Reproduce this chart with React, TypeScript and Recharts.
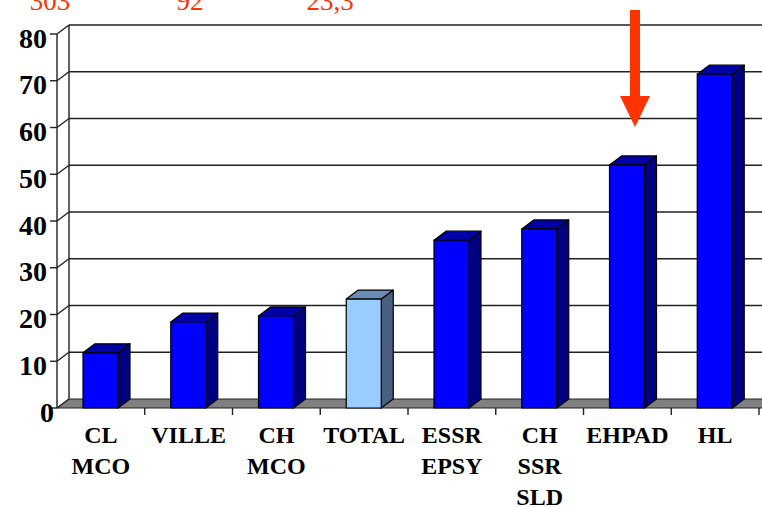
import { BarChart, Bar, XAxis, YAxis, CartesianGrid, Cell } from "recharts";

const categories = ["CL\nMCO", "VILLE", "CH\nMCO", "TOTAL", "ESSR\nEPSY", "CH\nSSR\nSLD", "EHPAD", "HL"];
const values = [11.8, 18.4, 19.7, 23.3, 35.9, 38.3, 52, 71.4];
const highlighted = ["TOTAL"];
const yTicks = [0, 10, 20, 30, 40, 50, 60, 70, 80];
const topNotes = ["303", "92", "23,3"];

const data = categories.map((name, i) => ({ name, value: values[i] }));

const DX = 12;
const DY = 9;
const FONT = '"Liberation Serif", "Times New Roman", serif';

const Bar3D = (props: any) => {
  const { x, y, width, height, fill } = props;
  const isTotal = fill === "total";
  const front = isTotal ? "#99ccff" : "#0000ff";
  const side = isTotal ? "#4a5f80" : "#000080";
  const top = isTotal ? "#6a8cb8" : "#0000a8";
  return (
    <g stroke="#000" strokeWidth={1.2} strokeLinejoin="round">
      <polygon
        points={`${x + width},${y} ${x + width + DX},${y - DY} ${x + width + DX},${y + height - DY} ${x + width},${y + height}`}
        fill={side}
      />
      <polygon
        points={`${x},${y} ${x + DX},${y - DY} ${x + width + DX},${y - DY} ${x + width},${y}`}
        fill={top}
      />
      <rect x={x} y={y} width={width} height={height} fill={front} />
    </g>
  );
};

const GridLine = (props: any) => {
  const { x1, x2, y1, y, height, index } = props;
  const bottom = y + height;
  const isFloor = Math.abs(y1 - bottom) < 0.5;
  const isTop = Math.abs(y1 - y) < 0.5;
  return (
    <g key={`g-${index}`}>
      {isFloor && (
        <polygon
          points={`${x1},${y1} ${x1 + DX},${y1 - DY} ${x2 + DX + 10},${y1 - DY} ${x2 + 10},${y1}`}
          fill="#808080"
          stroke="#222"
          strokeWidth={1}
        />
      )}
      {!isFloor && (
        <line x1={x1 + DX} y1={y1 - DY} x2={x2 + DX + 10} y2={y1 - DY} stroke="#222" strokeWidth={1.4} />
      )}
      <line x1={x1} y1={y1} x2={x1 + DX} y2={y1 - DY} stroke="#222" strokeWidth={1.4} />
      {isTop && (
        <line x1={x1 + DX} y1={y1 - DY} x2={x1 + DX} y2={bottom - DY} stroke="#222" strokeWidth={1.4} />
      )}
    </g>
  );
};

const YTick = (props: any) => {
  const { x, y, payload } = props;
  const isZero = payload.value === 0;
  return (
    <text
      x={x - 1 + (isZero ? 7 : 0)}
      y={y + 4}
      textAnchor="end"
      dominantBaseline="central"
      fontFamily={FONT}
      fontWeight="bold"
      fontSize={28}
      fill="#000"
    >
      {payload.value}
    </text>
  );
};

const XTick = (props: any) => {
  const { x, y, payload, width, visibleTicksCount } = props;
  const band = width / visibleTicksCount;
  const lines = String(payload.value).split("\n");
  return (
    <g>
      <line x1={x + band / 2} y1={y - 8} x2={x + band / 2} y2={y - 1} stroke="#222" strokeWidth={1.4} />
      <text textAnchor="middle" fontFamily={FONT} fontWeight="bold" fontSize={24} fill="#000">
        {lines.map((l, i) => (
          <tspan key={i} x={x} y={y + 27 + i * 31}>
            {l}
          </tspan>
        ))}
      </text>
    </g>
  );
};

export default function App() {
  const noteX = [50, 190, 330];
  return (
    <div style={{ position: "absolute", left: 0, top: 0, width: 762, height: 507, background: "#fff", overflow: "hidden" }}>
      <BarChart
        width={762}
        height={507}
        data={data}
        margin={{ top: 34, right: 3, bottom: 0, left: 0 }}
        barCategoryGap={0}
      >
        <CartesianGrid vertical={false} horizontal={(p: any) => <GridLine {...p} />} />
        <XAxis
          dataKey="name"
          interval={0}
          height={99}
          tick={<XTick />}
          tickLine={false}
          axisLine={false}
        />
        <YAxis
          domain={[0, 80]}
          ticks={yTicks}
          width={57}
          tick={<YTick />}
          tickSize={7}
          tickLine={{ stroke: "#222", strokeWidth: 1.4 }}
          axisLine={{ stroke: "#222", strokeWidth: 1.4 }}
        />
        <Bar dataKey="value" barSize={35} shape={<Bar3D />} isAnimationActive={false}>
          {data.map((d) => (
            <Cell key={d.name} fill={highlighted.includes(d.name) ? "total" : "blue"} />
          ))}
        </Bar>
      </BarChart>
      {topNotes.map((t, i) => (
        <div
          key={t}
          style={{
            position: "absolute",
            left: noteX[i] - 40,
            width: 80,
            top: -14,
            textAlign: "center",
            fontFamily: FONT,
            fontSize: 27,
            lineHeight: "30px",
            color: "#ff3300",
          }}
        >
          {t}
        </div>
      ))}
      <svg style={{ position: "absolute", left: 0, top: 0 }} width={762} height={507}>
        <polygon points="630,10 640,10 640,96 650,96 635,127 620,96 630,96" fill="#ff3300" />
      </svg>
    </div>
  );
}
